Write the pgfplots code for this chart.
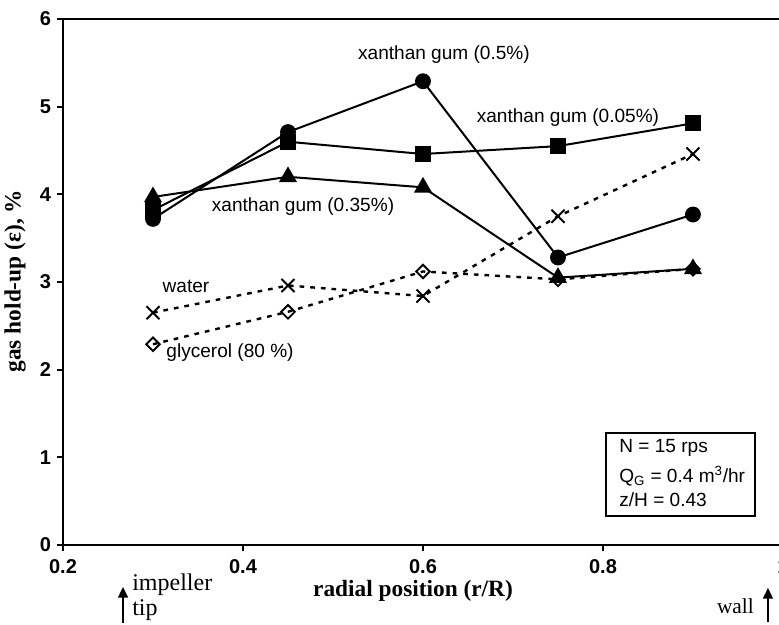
\documentclass[border=0pt]{standalone}
\usepackage{pgfplots}
\pgfplotsset{compat=1.18}
\usetikzlibrary{arrows.meta}
\usepackage{fontspec}
\setmainfont{Liberation Serif}
\newfontfamily\arial{Liberation Sans}

\pgfplotstableread{
x     xg05  xg005 xg035 water glyc
0.30  3.72  3.82  3.97  2.65  2.29
0.45  4.71  4.60  4.20  2.96  2.66
0.60  5.29  4.46  4.08  2.84  3.12
0.75  3.28  4.55  3.05  3.75  3.03
0.90  3.77  4.81  3.15  4.46  3.15
}\datatab

\begin{document}
\begin{tikzpicture}
\begin{axis}[
  name=ax, at={(0,0)}, anchor=south west,
  scale only axis, width=540pt, height=394.5pt,
  xmin=0.2, xmax=1, ymin=0, ymax=6,
  xtick={0.2,0.4,0.6,0.8,1}, xticklabels={0.2,0.4,0.6,0.8,1},
  ytick={0,1,2,3,4,5,6}, yticklabels={0,1,2,3,4,5,6},
  tick align=outside, xtick pos=bottom, ytick pos=left,
  major tick length=4.5pt,
  axis line style={line width=1.8pt},
  tick style={line width=1.4pt, black},
  ticklabel style={font=\arial\bfseries\fontsize{15}{17}\selectfont},
  xticklabel style={yshift=-3pt},
  yticklabel style={xshift=-1pt},
  clip=false,
]
\addplot[black, line width=1.5pt, mark=*, mark size=5.2pt] table[x=x,y=xg05]{\datatab};
\addplot[black, line width=1.5pt, mark=square*, mark size=5.2pt] table[x=x,y=xg005]{\datatab};
\addplot[black, line width=1.5pt, mark=triangle*, mark size=6.3pt] table[x=x,y=xg035]{\datatab};
\addplot[black, line width=1.8pt, dash pattern=on 3.5pt off 4.5pt, mark=x, mark size=6.9pt, mark options={solid, line width=1.5pt}] table[x=x,y=water]{\datatab};
\addplot[black, line width=1.8pt, dash pattern=on 3.5pt off 4.5pt, mark=square, mark size=3.6pt, mark options={solid, rotate=45, line width=1.4pt, fill=white}] table[x=x,y=glyc]{\datatab};

\begin{scope}[every node/.style={font=\arial\fontsize{14.3}{17}\selectfont}]
\node at (axis cs:0.6233,5.59) {xanthan gum (0.5\%)};
\node at (axis cs:0.7611,4.88) {xanthan gum (0.05\%)};
\node at (axis cs:0.4667,3.855) {xanthan gum (0.35\%)};
\node at (axis cs:0.3367,2.954) {water};
\node at (axis cs:0.3856,2.19) {glycerol (80 \%)};
\node[anchor=west] at (axis cs:0.8130,1.106) {N = 15 rps};
\node[anchor=west] at (axis cs:0.8130,0.787) {Q\textsubscript{G} = 0.4 m\textsuperscript{3}/hr};
\node[anchor=west] at (axis cs:0.8130,0.513) {z/H = 0.43};
\end{scope}
\draw[line width=1.3pt] (axis cs:0.8033,1.2775) rectangle (axis cs:0.9689,0.3308);

\node[font=\bfseries\fontsize{17.5}{20}\selectfont, anchor=base] at (axis cs:0.5889,-0.593) {radial position (r/R)};
\node[font=\bfseries\fontsize{17.5}{20}\selectfont, rotate=90] at (axis cs:0.1467,3.01) {gas hold-up (ε), \%};

\draw[line width=1pt, -{Triangle[width=7.5pt,length=8pt]}] (axis cs:0.2667,-0.89) -- (axis cs:0.2667,-0.479);
\node[font=\fontsize{18}{20}\selectfont, anchor=base west, inner sep=0pt] at (axis cs:0.2767,-0.52) {impeller};
\node[font=\fontsize{18}{20}\selectfont, anchor=base west, inner sep=0pt] at (axis cs:0.2767,-0.80) {tip};
\draw[line width=1pt, -{Triangle[width=7.5pt,length=8pt]}] (axis cs:0.9833,-0.878) -- (axis cs:0.9833,-0.49);
\node[font=\fontsize{16}{18}\selectfont, anchor=base east, inner sep=0pt] at (axis cs:0.9678,-0.776) {wall};
\end{axis}
\pgfresetboundingbox
\path[use as bounding box] (-47.25pt,-60pt) rectangle (537pt,408.75pt);
\end{tikzpicture}
\end{document}
